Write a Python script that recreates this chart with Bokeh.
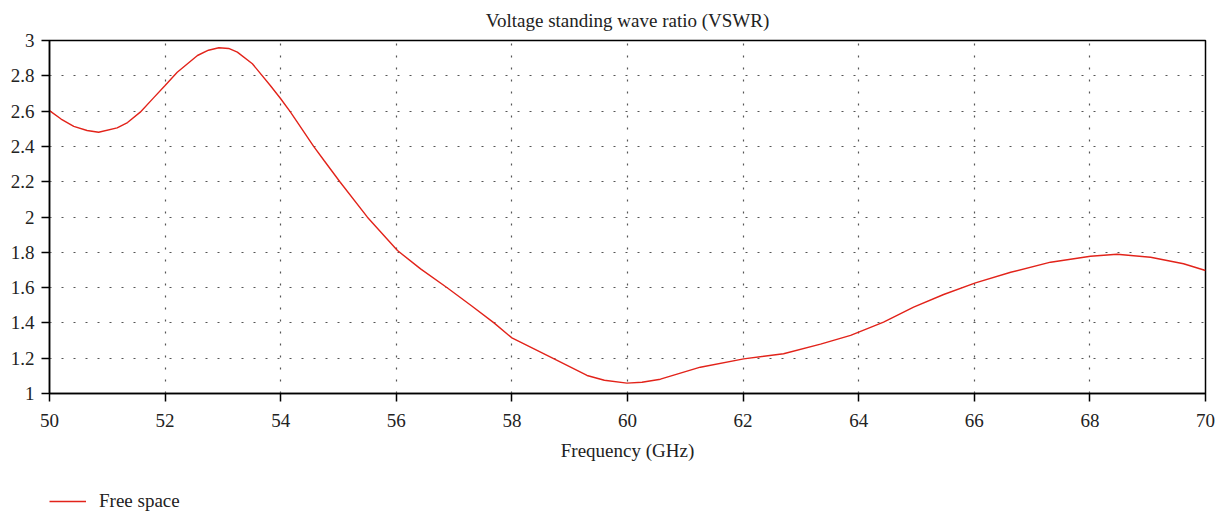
from bokeh.plotting import figure
from bokeh.layouts import column
from bokeh.models import FixedTicker, NumeralTickFormatter, Legend, LegendItem, Range1d, Title
from bokeh.embed import file_html
from bokeh.resources import INLINE

freq = [50.0, 50.2, 50.42, 50.65, 50.85, 51.17, 51.35, 51.57, 51.8, 52.0, 52.21, 52.56, 52.75,
        52.93, 53.1, 53.25, 53.51, 53.82, 54.0, 54.17, 54.57, 54.75, 55.03, 55.5, 56.02, 56.42,
        56.88, 57.3, 57.69, 58.0, 58.67, 59.3, 59.6, 59.99, 60.25, 60.57, 61.26, 62.01, 62.7,
        63.34, 63.86, 64.43, 64.95, 65.47, 66.02, 66.63, 67.32, 68.01, 68.47, 69.05, 69.62, 70.0]
vswr = [2.603, 2.555, 2.513, 2.49, 2.48, 2.505, 2.535, 2.594, 2.675, 2.745, 2.82, 2.915, 2.945,
        2.959, 2.955, 2.934, 2.868, 2.745, 2.67, 2.594, 2.40, 2.32, 2.197, 1.999, 1.81, 1.706,
        1.599, 1.497, 1.40, 1.315, 1.206, 1.102, 1.075, 1.059, 1.064, 1.081, 1.149, 1.196, 1.225,
        1.28, 1.329, 1.404, 1.489, 1.561, 1.627, 1.687, 1.744, 1.778, 1.789, 1.772, 1.735, 1.697]
x_ticks = [50, 52, 54, 56, 58, 60, 62, 64, 66, 68, 70]
y_ticks = [1, 1.2, 1.4, 1.6, 1.8, 2, 2.2, 2.4, 2.6, 2.8, 3]

FONT = "Liberation Serif"
TXT = "#222222"
RED = "#e2231a"

p = figure(width=1225, height=470, output_backend="svg", toolbar_location=None,
           x_range=Range1d(50, 70), y_range=Range1d(1, 3),
           min_border_left=49, min_border_right=20, min_border_top=40, min_border_bottom=77)

t = Title(text="Voltage standing wave ratio (VSWR)", align="center", text_font=FONT,
          text_font_size="19px", text_font_style="normal", text_color=TXT,
          standoff=15, vertical_align="top")
p.add_layout(t, "above")

p.line(freq, vswr, line_color=RED, line_width=1.4)

for ax in (p.xaxis[0], p.yaxis[0]):
    ax.major_label_text_font = FONT
    ax.major_label_text_font_size = "19px"
    ax.major_label_text_color = TXT
    ax.axis_line_color = "black"
    ax.axis_line_width = 1.5
    ax.major_tick_line_color = "black"
    ax.major_tick_line_width = 1.5
    ax.major_tick_out = 8
    ax.major_tick_in = 0
    ax.minor_tick_line_color = None
    ax.axis_label_text_font = FONT
    ax.axis_label_text_font_size = "19px"
    ax.axis_label_text_font_style = "normal"
    ax.axis_label_text_color = TXT

p.xaxis.ticker = FixedTicker(ticks=x_ticks)
p.yaxis.ticker = FixedTicker(ticks=y_ticks)
p.yaxis.formatter = NumeralTickFormatter(format="0.[0]")
p.xaxis.axis_label = "Frequency (GHz)"
p.xaxis.axis_label_standoff = 10
p.xaxis.major_label_standoff = 12
p.yaxis.major_label_standoff = 7

for g in (p.xgrid[0], p.ygrid[0]):
    g.grid_line_color = "#555555"
    g.grid_line_dash = "2 10"
    g.grid_line_width = 1.2

p.outline_line_color = "black"
p.outline_line_width = 1.5
p.outline_line_alpha = 1

# legend strip below the chart
p2 = figure(width=1225, height=43, output_backend="svg", toolbar_location=None,
            x_range=Range1d(0, 1), y_range=Range1d(0, 1),
            min_border=0, min_border_left=0, min_border_right=0, min_border_top=0, min_border_bottom=0)
p2.axis.visible = False
p2.grid.visible = False
p2.outline_line_color = None
r2 = p2.line(freq, vswr, line_color=RED, line_width=1.4)

legend = Legend(items=[LegendItem(label="Free space", renderers=[r2])],
                location=(0, 1), orientation="horizontal",
                label_text_font=FONT, label_text_font_size="19px", label_text_color=TXT,
                background_fill_alpha=0, border_line_color=None,
                glyph_width=37, glyph_height=20, label_standoff=13, padding=0, margin=0)
p2.add_layout(legend, "center")

layout = column(p, p2, spacing=0)
open("out.html", "w").write(file_html(layout, INLINE))
